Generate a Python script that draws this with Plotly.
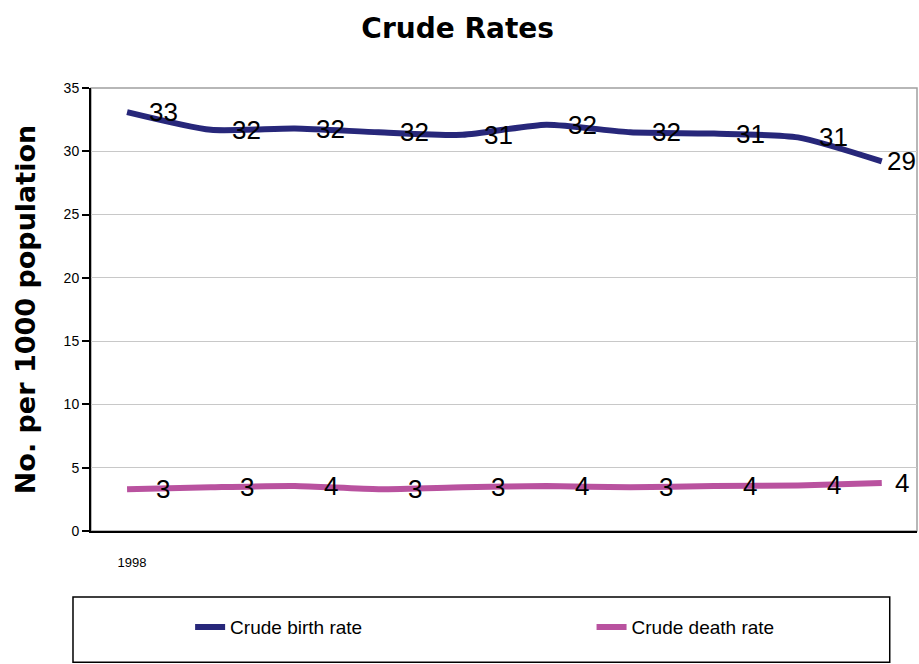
import plotly.graph_objects as go

years = [1998, 1999, 2000, 2001, 2002, 2003, 2004, 2005, 2006, 2007]
birth_rate = [33.1, 31.7, 31.8, 31.5, 31.3, 32.1, 31.5, 31.4, 31.1, 29.2]
death_rate = [3.3, 3.45, 3.55, 3.3, 3.45, 3.55, 3.45, 3.55, 3.6, 3.8]
x_tick_vals = [1998]
x_tick_text = ["1998"]
y_ticks = [0, 5, 10, 15, 20, 25, 30, 35]

BIRTH_COLOR = "#27277a"
DEATH_COLOR = "#b9529f"
FONT = "Liberation Sans, Arial, sans-serif"
BOLD_FONT = "DejaVu Sans, Verdana, sans-serif"

fig = go.Figure()
fig.add_trace(go.Scatter(x=years, y=birth_rate, mode="lines", name="Crude birth rate",
                         legend="legend",
                         line=dict(color=BIRTH_COLOR, width=6, shape="spline", smoothing=0.6)))
fig.add_trace(go.Scatter(x=years, y=death_rate, mode="lines", name="Crude death rate",
                         legend="legend2",
                         line=dict(color=DEATH_COLOR, width=6, shape="spline", smoothing=0.6)))

annotations = []
for series in (birth_rate, death_rate):
    n = len(series)
    for i, (xv, yv) in enumerate(zip(years, series)):
        annotations.append(dict(x=xv, y=yv, xref="x", yref="y", text=str(int(round(yv))),
                                showarrow=False, xanchor="center", yanchor="middle",
                                xshift=36 if i < n - 1 else 20,
                                font=dict(family=FONT, size=26, color="black")))

legend_common = dict(orientation="h", xanchor="left", yanchor="middle",
                     xref="paper", yref="paper",
                     font=dict(family=FONT, size=19, color="black"),
                     bgcolor="rgba(0,0,0,0)", borderwidth=0)

fig.update_layout(
    width=919, height=664,
    margin=dict(l=91, r=2, t=88, b=133, autoexpand=False),
    paper_bgcolor="white", plot_bgcolor="white",
    title=dict(text="<b>Crude Rates</b>", x=0.498, xanchor="center", y=0.957, yanchor="middle",
               font=dict(family=BOLD_FONT, size=28, color="black")),
    annotations=annotations,
    showlegend=True,
    legend=dict(x=0.12, y=-0.217, **legend_common),
    legend2=dict(x=0.606, y=-0.217, **legend_common),
    shapes=[
        dict(type="rect", xref="paper", yref="paper", x0=0, x1=1, y0=0, y1=1,
             line=dict(color="#a0a0a0", width=1.5), layer="below"),
        dict(type="rect", xref="paper", yref="paper", x0=-0.0218, x1=0.967, y0=-0.149, y1=-0.296,
             line=dict(color="black", width=1.5), layer="above"),
    ],
)

fig.update_xaxes(range=[1997.57, 2007.42], tickvals=x_tick_vals, ticktext=x_tick_text,
                 showgrid=False, zeroline=False, showline=True, linecolor="black", linewidth=2,
                 ticks="", ticklabelstandoff=18, ticklabelshift=5,
                 tickfont=dict(family=FONT, size=13, color="black"))
fig.update_yaxes(range=[0, 35], tickvals=y_ticks, showgrid=True, gridcolor="#c8c8c8", gridwidth=1,
                 zeroline=False, showline=True, linecolor="black", linewidth=2,
                 ticks="outside", ticklen=7, tickcolor="black", tickwidth=1.5,
                 tickfont=dict(family=FONT, size=14, color="black"),
                 title=dict(text="<b>No. per 1000 population</b>", standoff=20,
                            font=dict(family=BOLD_FONT, size=27, color="black")))

fig.write_html("out.html", config={"displayModeBar": False},
               post_script="document.body.style.margin='0px';")
